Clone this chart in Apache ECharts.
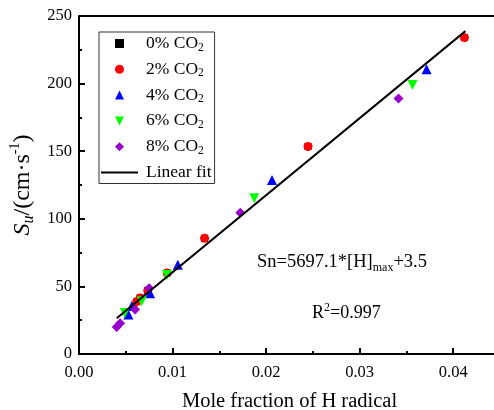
<!DOCTYPE html>
<html>
<head>
<meta charset="utf-8">
<script src="https://cdn.jsdelivr.net/npm/echarts@6/dist/echarts.min.js"></script>
<style>html,body{margin:0;padding:0;background:#fff;}#c{width:494px;height:410px;}</style>
</head>
<body>
<div id="c"></div>
<script>
// ---- data ----
var seriesNames = ['0% CO2', '2% CO2', '4% CO2', '6% CO2', '8% CO2'];
var co2_0 = [[0.00617, 38.7], [0.00653, 41.5], [0.00735, 47.0], [0.00943, 60.0], [0.01342, 85.6], [0.02448, 153.5], [0.0412, 234.0]];
var co2_2 = [[0.00617, 38.7], [0.00653, 41.5], [0.00735, 47.0], [0.00943, 60.0], [0.01342, 85.6], [0.02448, 153.5], [0.0412, 234.0]];
var co2_4 = [[0.00528, 29.2], [0.00564, 35.5], [0.0076, 45.0], [0.01056, 66.0], [0.02063, 128.7], [0.03715, 210.6]];
var co2_6 = [[0.0049, 30.3], [0.0067, 39.0], [0.00939, 58.4], [0.01874, 115.2], [0.03565, 199.0]];
var co2_8 = [[0.00403, 20.0], [0.00439, 22.7], [0.0060, 33.0], [0.0075, 48.6], [0.01724, 104.5], [0.03415, 189.0]];
var fitLine = [[0.00403, 26.5], [0.0413, 238.8]];
var xTicks = [0, 0.01, 0.02, 0.03, 0.04];
var yTicks = [0, 50, 100, 150, 200, 250];

var FONT = "'Liberation Serif', 'Times New Roman', serif";
var chart = echarts.init(document.getElementById('c'), null, {renderer: 'canvas'});

function sc(name, data, color, symbol, size, rot) {
  return {
    name: name, type: 'scatter', data: data, symbol: symbol, symbolSize: size,
    symbolRotate: rot || 0, itemStyle: {color: color, opacity: 1}, z: 3
  };
}

var option = {
  animation: false,
  backgroundColor: '#fff',
  grid: {left: 79, top: 16, right: -6, bottom: 56, containLabel: false, outerBoundsMode: 'none'},
  legend: {
    orient: 'vertical', left: 99, top: 32,
    padding: [2.5, 3, 2, 2],
    itemWidth: 37, itemHeight: 9, itemGap: 6.8,
    borderColor: '#333', borderWidth: 1, backgroundColor: '#fff',
    symbolKeepAspect: true, symbolRotate: 0,
    data: [
      {name: seriesNames[0], icon: 'path://M0,0H10V10H0Z'},
      {name: seriesNames[1], icon: 'path://M5,0A5,5,0,1,1,5,10A5,5,0,1,1,5,0Z'},
      {name: seriesNames[2], icon: 'path://M5,0L10,10L0,10Z'},
      {name: seriesNames[3], icon: 'path://M0,0L10,0L5,10Z'},
      {name: seriesNames[4], icon: 'path://M5,0L10,5L5,10L0,5Z'},
      {name: 'Linear fit', icon: 'path://M0,0H40V2.3H0Z'}
    ],
    formatter: function (n) {
      if (n.indexOf('CO2') >= 0) return '{a|' + n.replace('CO2', 'CO') + '}{s|2}';
      return '{a|' + n + '}';
    },
    textStyle: {
      fontFamily: FONT, color: '#000',
      rich: {
        a: {fontFamily: FONT, fontSize: 17.5, color: '#000', lineHeight: 20, verticalAlign: 'middle', padding: [0, 0, 0, 3]},
        s: {fontFamily: FONT, fontSize: 11.5, color: '#000', lineHeight: 9, verticalAlign: 'bottom'}
      }
    }
  },
  xAxis: {
    type: 'value', min: 0, max: 0.045, interval: 0.01,
    name: 'Mole fraction of H radical', nameLocation: 'middle', nameGap: 37,
    nameTextStyle: {fontFamily: FONT, fontSize: 20.5, color: '#000'},
    axisLine: {show: true, onZero: false, lineStyle: {color: '#000', width: 2}},
    axisTick: {show: true, inside: true, length: 6, lineStyle: {color: '#000', width: 2}},
    minorTick: {show: true, splitNumber: 2, length: 3, lineStyle: {color: '#000', width: 2}},
    splitLine: {show: false},
    axisLabel: {
      fontFamily: FONT, fontSize: 16.5, color: '#000', margin: 10,
      formatter: function (v) { return v.toFixed(2); },
      customValues: xTicks
    }
  },
  yAxis: {
    type: 'value', min: 0, max: 250, interval: 50,
    name: '{i|S}{u|u}{n|/(cm·s}{p|-1}{n|)}', nameLocation: 'middle', nameGap: 29, nameRotate: 90,
    nameTextStyle: {
      fontFamily: FONT, fontSize: 24, color: '#000',
      rich: {
        i: {fontFamily: FONT, fontSize: 24, fontStyle: 'italic', color: '#000', lineHeight: 28, verticalAlign: 'middle'},
        u: {fontFamily: FONT, fontSize: 16, fontStyle: 'italic', color: '#000', lineHeight: 13, verticalAlign: 'bottom'},
        n: {fontFamily: FONT, fontSize: 24, color: '#000', lineHeight: 28, verticalAlign: 'middle'},
        p: {fontFamily: FONT, fontSize: 14, color: '#000', lineHeight: 13, verticalAlign: 'top'}
      }
    },
    axisLine: {show: true, onZero: false, lineStyle: {color: '#000', width: 2}},
    axisTick: {show: true, inside: true, length: 6, lineStyle: {color: '#000', width: 2}},
    minorTick: {show: true, splitNumber: 2, length: 3, lineStyle: {color: '#000', width: 2}},
    splitLine: {show: false},
    axisLabel: {fontFamily: FONT, fontSize: 16.5, color: '#000', margin: 7, customValues: yTicks}
  },
  graphic: [
    {type: 'line', shape: {x1: 79, y1: 16, x2: 494, y2: 16}, style: {stroke: '#000', lineWidth: 2}, z: 10},
    {
      type: 'text', left: 257, top: 253, z: 10,
      style: {
        text: '{n|Sn=5697.1*[H]}{s|max}{n|+3.5}',
        rich: {
          n: {fontFamily: FONT, fontSize: 18.5, fill: '#000', lineHeight: 22, verticalAlign: 'middle'},
          s: {fontFamily: FONT, fontSize: 12, fill: '#000', lineHeight: 10, verticalAlign: 'bottom'}
        }
      }
    },
    {
      type: 'text', left: 312, top: 302, z: 10,
      style: {
        text: '{n|R}{p|2}{n|=0.997}',
        rich: {
          n: {fontFamily: FONT, fontSize: 18, fill: '#000', lineHeight: 22, verticalAlign: 'middle'},
          p: {fontFamily: FONT, fontSize: 12, fill: '#000', lineHeight: 11, verticalAlign: 'top'}
        }
      }
    }
  ],
  series: [
    sc(seriesNames[0], co2_0, '#000000', 'rect', 7),
    sc(seriesNames[1], co2_2, '#ff0000', 'circle', 9),
    sc(seriesNames[2], co2_4, '#0000ff', 'triangle', 10),
    sc(seriesNames[3], co2_6, '#00ff00', 'triangle', 10, 180),
    sc(seriesNames[4], co2_8, '#9900cc', 'diamond', 10),
    {
      name: 'Linear fit', type: 'line', data: fitLine, symbol: 'none', showSymbol: false,
      lineStyle: {color: '#000', width: 2}, itemStyle: {color: '#000'}, z: 4
    }
  ]
};
chart.setOption(option);
</script>
</body>
</html>
